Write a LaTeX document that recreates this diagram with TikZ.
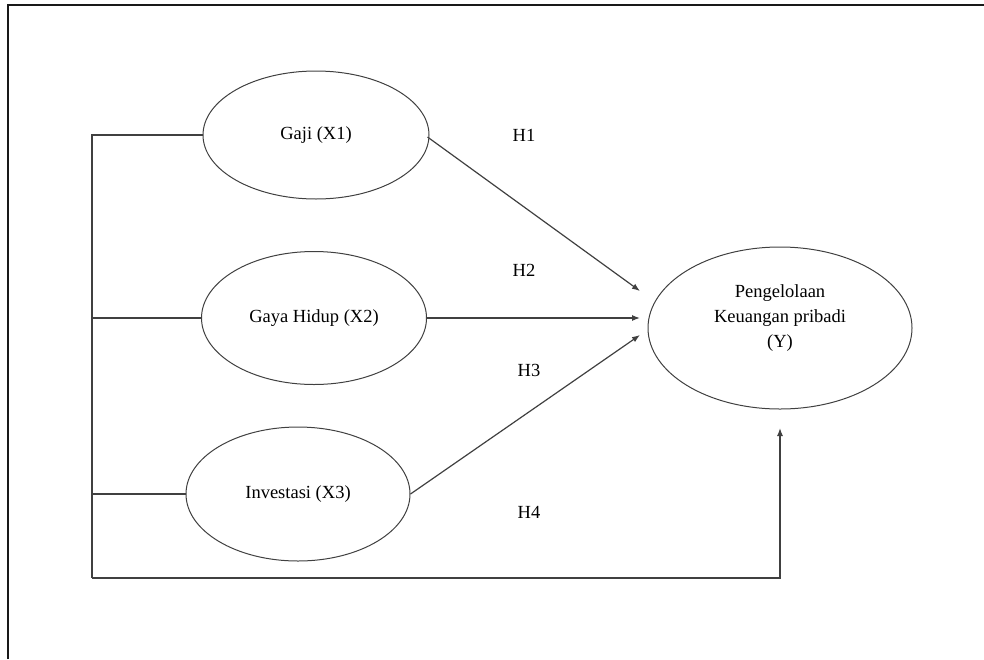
\documentclass[tikz,border=0pt]{standalone}
\usepackage{fontspec}
\setmainfont{Liberation Serif}
\usetikzlibrary{shapes.geometric,arrows.meta}
\begin{document}
\begin{tikzpicture}[x=1pt,y=-1pt,
  font=\fontsize{18.5}{25}\selectfont,
  var/.style={ellipse,draw=black!75,line width=1pt,inner sep=0pt,align=center},
  conn/.style={draw=black!75,line width=1.2pt},
  arr/.style={conn,-{Latex[length=8pt,width=6pt]}},
  lbl/.style={inner sep=0pt,anchor=center,align=center}]
\useasboundingbox (0,0) rectangle (984,659);
\draw[line width=2pt,black!90] (7.5,659) -- (7.5,5) -- (984,5);
% variables
\node[var,minimum width=226pt,minimum height=128pt] (Gaji) at (316,135) {Gaji (X1)};
\node[var,minimum width=225pt,minimum height=133pt] (Gaya) at (314,318) {Gaya Hidup (X2)};
\node[var,minimum width=224pt,minimum height=134pt] (Inv) at (298,494) {Investasi (X3)};
\node[var,minimum width=264pt,minimum height=162pt] (Y) at (780,328) {};
\node[lbl] (Ytext) at (780,318) {Pengelolaan\\Keuangan pribadi\\(Y)};
% labels
\node[lbl] (H1) at (524,135) {H1};
\node[lbl] (H2) at (524,270) {H2};
\node[lbl] (H3) at (529,370) {H3};
\node[lbl] (H4) at (529,512) {H4};
% coordinates
\coordinate (b1) at (92,135);
\coordinate (b2) at (92,318);
\coordinate (b3) at (92,494);
\coordinate (b4) at (92,578);
\coordinate (t1) at (640,291);
\coordinate (t2) at (640,318);
\coordinate (t3) at (640,335);
\coordinate (t4) at (780,428);
% connectors
\draw[conn] (Gaji.west) -- (b1) -- (b4);
\draw[conn] (Gaya.west) -- (b2);
\draw[conn] (Inv.west) -- (b3);
\draw[arr] (b4) -| (t4);
\draw[arr] (Gaji.east) ++(-2,2) -- (t1);
\draw[arr] (Gaya.east) -- (t2);
\draw[arr] (Inv.east) -- (t3);
\end{tikzpicture}
\end{document}
